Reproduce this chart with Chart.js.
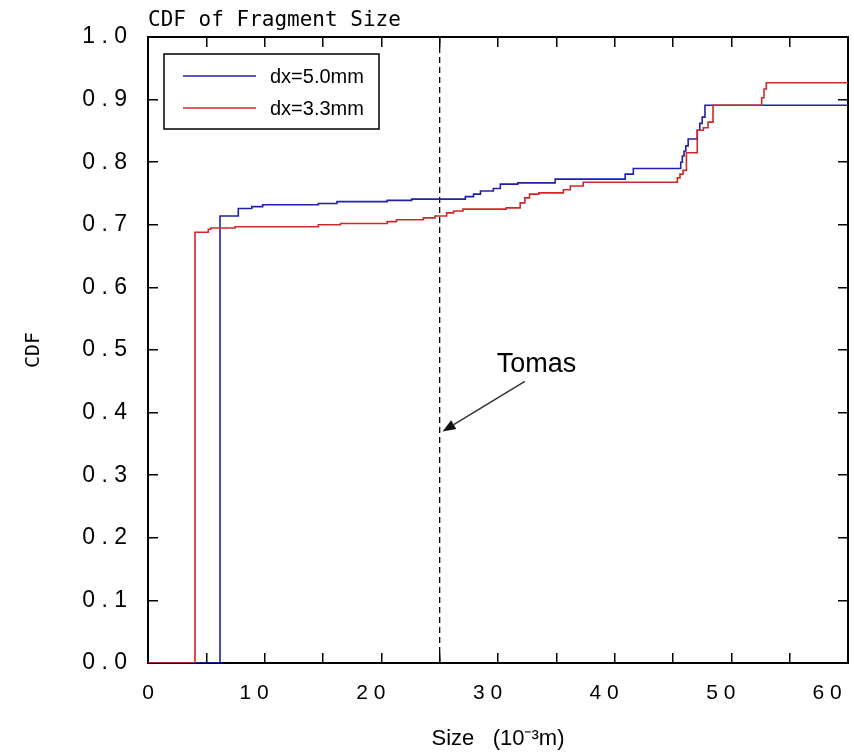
<!DOCTYPE html>
<html><head><meta charset="utf-8">
<script src="https://cdn.jsdelivr.net/npm/chart.js@4.4.1/dist/chart.umd.min.js"></script>
<style>html,body{margin:0;padding:0;background:#fff}</style>
</head><body>
<canvas id="c" width="854" height="752" style="display:block;width:854px;height:752px"></canvas>
<script>
// ---------- data ----------
const chartTitle = 'CDF of Fragment Size';
const xAxisTitle = 'Size   (10\u207B\u00B3m)';
const yAxisTitle = 'CDF';
const seriesNames = ['dx=5.0mm', 'dx=3.3mm'];

const blueX = [0, 6.17, 7.74, 8.9, 9.83, 14.6, 16.2, 20.5, 22.6, 27.2, 27.9, 28.5, 29.6, 30.2, 31.7, 34.9, 40.9, 41.6, 45.66, 45.8, 45.95, 46.1, 46.3, 47.08, 47.3, 47.5, 47.74, 60];
const blueY = [0, 0.714, 0.726, 0.729, 0.732, 0.734, 0.737, 0.739, 0.741, 0.745, 0.749, 0.754, 0.758, 0.765, 0.767, 0.773, 0.781, 0.790, 0.800, 0.810, 0.818, 0.826, 0.837, 0.851, 0.862, 0.872, 0.891, 0.891];

const redX = [0, 4.03, 5.17, 5.37, 7.46, 14.6, 16.5, 20.5, 21.3, 23.6, 24.6, 25.6, 26.2, 27.0, 30.7, 31.9, 32.3, 32.7, 33.5, 35.6, 36.2, 37.3, 45.37, 45.6, 45.86, 46.15, 47.08, 47.6, 48.0, 48.43, 52.6, 52.8, 53.0, 60];
const redY = [0, 0.688, 0.693, 0.695, 0.697, 0.700, 0.702, 0.705, 0.708, 0.711, 0.714, 0.719, 0.722, 0.725, 0.727, 0.735, 0.743, 0.749, 0.751, 0.756, 0.762, 0.768, 0.775, 0.781, 0.787, 0.815, 0.851, 0.855, 0.864, 0.891, 0.903, 0.917, 0.927, 0.927];

const xTickLabels = ['0', '1 0', '2 0', '3 0', '4 0', '5 0', '6 0'];
const yTickLabels = ['0 . 0', '0 . 1', '0 . 2', '0 . 3', '0 . 4', '0 . 5', '0 . 6', '0 . 7', '0 . 8', '0 . 9', '1 . 0'];

const markerX = 25;
const annotationText = 'Tomas';
const annotationAt = [33.3, 0.465];
const arrowFrom = [32.3, 0.450];
const arrowTo = [25.25, 0.370];

// ---------- styles ----------
const BLUE = '#2020b0';
const RED = '#d02828';
const pts = (xs, ys) => xs.map((x, i) => ({x: x, y: ys[i]}));
// label shift to the left (IDL-style placement): trailing en spaces
const xLabelFmt = (i, n) => {
  const s = xTickLabels[i];
  if (i === 0) return s;
  return s + (i === n - 1 ? '\u2002\u2002\u2002\u2002' : '\u2002\u2002');
};

const overlay = {
  id: 'overlay',
  afterDraw(chart) {
    const ctx = chart.ctx, ca = chart.chartArea;
    const xs = chart.scales.x, ys = chart.scales.y;
    ctx.save();
    // title
    ctx.fillStyle = '#000';
    ctx.font = '21px "DejaVu Sans Mono"';
    ctx.textAlign = 'left';
    ctx.textBaseline = 'alphabetic';
    ctx.fillText(chartTitle, ca.left, 26);
    // legend box
    const lx = ca.left + 16, ly = ca.top + 17, lw = 215, lh = 75;
    ctx.lineWidth = 1.5;
    ctx.strokeStyle = '#000';
    ctx.strokeRect(lx, ly, lw, lh);
    ctx.font = '20px "Liberation Sans"';
    chart.data.datasets.slice(0, 2).forEach((ds, i) => {
      const yy = ly + 22 + i * 32;
      ctx.strokeStyle = ds.borderColor;
      ctx.lineWidth = 1.5;
      ctx.beginPath();
      ctx.moveTo(lx + 19, yy);
      ctx.lineTo(lx + 92, yy);
      ctx.stroke();
      ctx.fillStyle = '#000';
      ctx.fillText(ds.label, lx + 106, yy + 7);
    });
    // annotation
    ctx.fillStyle = '#000';
    ctx.font = '27px "Liberation Sans"';
    ctx.textAlign = 'center';
    ctx.fillText(annotationText, xs.getPixelForValue(annotationAt[0]), ys.getPixelForValue(annotationAt[1]));
    const x1 = xs.getPixelForValue(arrowFrom[0]), y1 = ys.getPixelForValue(arrowFrom[1]);
    const x2 = xs.getPixelForValue(arrowTo[0]), y2 = ys.getPixelForValue(arrowTo[1]);
    const ang = Math.atan2(y2 - y1, x2 - x1);
    const hl = 13, hw = 5;
    const bx = x2 - hl * Math.cos(ang), by = y2 - hl * Math.sin(ang);
    ctx.strokeStyle = '#333';
    ctx.lineWidth = 1.5;
    ctx.beginPath();
    ctx.moveTo(x1, y1);
    ctx.lineTo(bx, by);
    ctx.stroke();
    ctx.fillStyle = '#111';
    ctx.beginPath();
    ctx.moveTo(x2, y2);
    ctx.lineTo(bx + hw * Math.sin(ang), by - hw * Math.cos(ang));
    ctx.lineTo(bx - hw * Math.sin(ang), by + hw * Math.cos(ang));
    ctx.closePath();
    ctx.fill();
    ctx.restore();
  }
};

const noPad = s => { s.paddingLeft = 0; s.paddingRight = 0; s.paddingTop = 0; s.paddingBottom = 0; };

const axisCommon = {
  type: 'linear',
  grid: {drawOnChartArea: false, drawTicks: true, tickLength: -10, color: '#000', lineWidth: 1.5},
  border: {display: true, color: '#000', width: 2}
};

new Chart(document.getElementById('c'), {
  type: 'line',
  data: {
    datasets: [
      {label: seriesNames[0], data: pts(blueX, blueY), borderColor: BLUE, borderWidth: 1.6, stepped: 'before', pointRadius: 0, fill: false, order: 1},
      {label: seriesNames[1], data: pts(redX, redY), borderColor: RED, borderWidth: 1.6, stepped: 'before', pointRadius: 0, fill: false, order: 0},
      {label: 'marker', data: [{x: markerX, y: 0}, {x: markerX, y: 1}], borderColor: '#000', borderWidth: 1.3, borderDash: [6, 4], pointRadius: 0, fill: false, order: 2}
    ]
  },
  options: {
    responsive: false,
    animation: false,
    devicePixelRatio: 1,
    layout: {padding: 0},
    plugins: {legend: {display: false}, tooltip: {enabled: false}, title: {display: false}},
    scales: {
      x: Object.assign({}, axisCommon, {
        position: 'bottom', min: 0, max: 60,
        ticks: {stepSize: 5, autoSkip: false, maxRotation: 0, padding: 28, color: '#000',
          font: {family: 'Liberation Sans', size: 21},
          callback: (v, i) => (i % 2 === 0 ? xLabelFmt(i / 2, xTickLabels.length) : '')},
        title: {display: true, text: xAxisTitle, color: '#000', font: {family: 'Liberation Sans', size: 22}, padding: {top: 0, bottom: 0}},
        afterFit: s => { s.height = 89; noPad(s); }
      }),
      x2: Object.assign({}, axisCommon, {
        position: 'top', min: 0, max: 60,
        ticks: {stepSize: 5, autoSkip: false, display: false},
        afterFit: s => { s.height = 37; noPad(s); }
      }),
      y: Object.assign({}, axisCommon, {
        position: 'left', min: 0, max: 1,
        ticks: {stepSize: 0.1, autoSkip: false, padding: 31, color: '#000',
          font: {family: 'Liberation Sans', size: 23},
          callback: (v, i) => yTickLabels[i]},
        title: {display: true, text: yAxisTitle, color: '#000', font: {family: 'DejaVu Sans Mono', size: 20}, padding: {top: 22, bottom: 0}},
        afterFit: s => { s.width = 148; noPad(s); }
      }),
      y2: Object.assign({}, axisCommon, {
        position: 'right', min: 0, max: 1,
        ticks: {stepSize: 0.1, autoSkip: false, display: false},
        afterFit: s => { s.width = 6; noPad(s); }
      })
    }
  },
  plugins: [overlay]
});
</script>
</body></html>
